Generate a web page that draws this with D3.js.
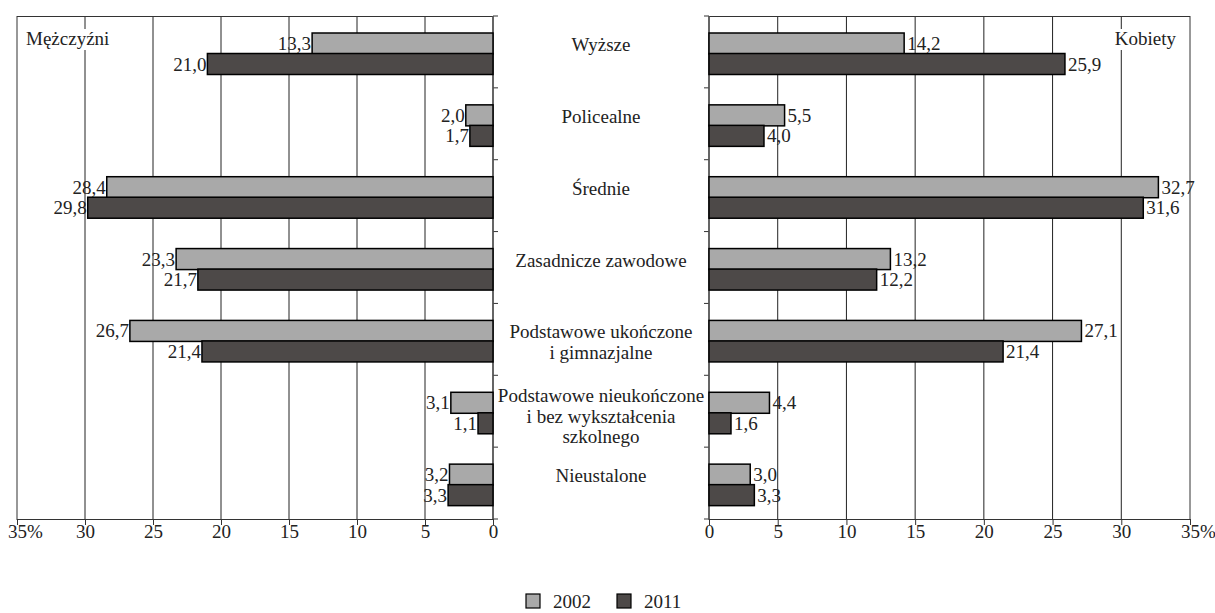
<!DOCTYPE html>
<html>
<head>
<meta charset="utf-8">
<script src="https://cdn.jsdelivr.net/npm/d3@7"></script>
<style>
  body { margin: 0; background: #fff; }
</style>
</head>
<body>
<script>
// education categories (lines of each label)
var categories = [
  ["Wyższe"],
  ["Policealne"],
  ["Średnie"],
  ["Zasadnicze zawodowe"],
  ["Podstawowe ukończone", "i gimnazjalne"],
  ["Podstawowe nieukończone", "i bez wykształcenia", "szkolnego"],
  ["Nieustalone"]
];
var years = ["2002", "2011"];
var men_2002 = [13.3, 2.0, 28.4, 23.3, 26.7, 3.1, 3.2];
var men_2011 = [21.0, 1.7, 29.8, 21.7, 21.4, 1.1, 3.3];
var women_2002 = [14.2, 5.5, 32.7, 13.2, 27.1, 4.4, 3.0];
var women_2011 = [25.9, 4.0, 31.6, 12.2, 21.4, 1.6, 3.3];
var tick_values = [0, 5, 10, 15, 20, 25, 30, 35];

var W = 1215, H = 613;
var top_y = 16, bottom_y = 519;
var colors = {"2002": "#a9a9a9", "2011": "#4d4948"};
var FONT = "'Liberation Serif', 'Times New Roman', serif";

var svg = d3.select("body").append("svg").attr("width", W).attr("height", H);

var y = d3.scaleBand().domain(d3.range(categories.length)).range([top_y, bottom_y]);
var xL = d3.scaleLinear().domain([35, 0]).range([17, 493]);
var xR = d3.scaleLinear().domain([0, 35]).range([709, 1190]);

function fmt(v) { return v.toFixed(1).replace(".", ","); }

function draw_panel(x, s2002, s2011, side) {
  var g = svg.append("g");
  var x0 = x(0);

  // gridlines
  g.selectAll(".grid").data(tick_values.filter(function(d) { return d > 0 && d < 35; }))
    .enter().append("line")
    .attr("x1", function(d) { return x(d); }).attr("x2", function(d) { return x(d); })
    .attr("y1", top_y).attr("y2", bottom_y)
    .attr("stroke", "#222").attr("stroke-width", 1);

  // frame
  var xa = Math.min(x(0), x(35)), xb = Math.max(x(0), x(35));
  g.append("rect").attr("x", xa).attr("y", top_y + 0.5)
    .attr("width", xb - xa).attr("height", bottom_y - top_y)
    .attr("fill", "none").attr("stroke", "#333").attr("stroke-width", 1);

  // bottom axis
  var axis = d3.axisBottom(x).tickValues(tick_values).tickSize(6).tickFormat(function(d) { return d; });
  var ag = g.append("g").attr("transform", "translate(0," + bottom_y + ")").call(axis);
  ag.select(".domain").remove();
  ag.selectAll(".tick line").attr("stroke", "#333");
  ag.selectAll(".tick text").attr("dy", "0.75em").attr("y", 5).attr("fill", "#222")
    .filter(function(d) { return d === 35; })
    .text("35%").attr("text-anchor", "start").attr("dx", -9.5);

  // category ticks on zero axis
  var bounds = d3.range(categories.length + 1).map(function(i) {
    return i < categories.length ? y(i) : bottom_y;
  });
  g.selectAll(".ctick").data(bounds).enter().append("line")
    .attr("x1", x0).attr("x2", x0 + (side === "left" ? 5 : -5))
    .attr("y1", function(d) { return d; }).attr("y2", function(d) { return d; })
    .attr("stroke", "#333");
  g.append("line").attr("x1", x0).attr("x2", x0).attr("y1", top_y).attr("y2", bottom_y)
    .attr("stroke", "#555").attr("stroke-width", 1.5);

  // bars
  var series = [{year: "2002", vals: s2002, off: 17}, {year: "2011", vals: s2011, off: 37.5}];
  series.forEach(function(s) {
    var bh = 21;
    g.selectAll(".bar" + s.year).data(s.vals).enter().append("rect")
      .attr("x", function(d) { return Math.min(x(d), x0); })
      .attr("y", function(d, i) { return y(i) + s.off; })
      .attr("width", function(d) { return Math.abs(x(d) - x0); })
      .attr("height", bh)
      .attr("fill", colors[s.year]).attr("stroke", "#000").attr("stroke-width", 1.5);

    g.selectAll(".val" + s.year).data(s.vals).enter().append("text")
      .attr("class", "val")
      .attr("x", function(d) { return side === "left" ? x(d) - 1 : x(d) + 3; })
      .attr("y", function(d, i) { return y(i) + s.off + bh - 4; })
      .attr("text-anchor", side === "left" ? "end" : "start")
      .text(fmt);
  });
}

draw_panel(xL, men_2002, men_2011, "left");
draw_panel(xR, women_2002, women_2011, "right");

// panel titles
svg.append("rect").attr("x", 24).attr("y", 29).attr("width", 86).attr("height", 21).attr("fill", "#fff");
svg.append("text").attr("x", 26).attr("y", 45).text("Mężczyźni");
svg.append("rect").attr("x", 1116).attr("y", 29).attr("width", 64).attr("height", 21).attr("fill", "#fff");
svg.append("text").attr("x", 1176).attr("y", 45).attr("text-anchor", "end").text("Kobiety");

// category labels
var cx = (493 + 709) / 2;
var lab = svg.selectAll(".catlab").data(categories).enter().append("text")
  .attr("text-anchor", "middle")
  .attr("y", function(d, i) {
    var c = y(i) + y.bandwidth() / 2;
    return d.length === 1 ? c - 1 : (d.length === 2 ? c - 1 : c - 9);
  });
lab.selectAll("tspan").data(function(d) { return d; }).enter().append("tspan")
  .attr("x", cx).attr("dy", function(d, i) { return i === 0 ? 0 : 20.5; })
  .text(function(d) { return d; });

// legend
var leg = svg.append("g");
var lx = [526, 617];
years.forEach(function(yr, i) {
  leg.append("rect").attr("x", lx[i]).attr("y", 594).attr("width", 14).attr("height", 14)
    .attr("fill", colors[yr]).attr("stroke", "#000").attr("stroke-width", 1.2);
  leg.append("text").attr("x", lx[i] + 27).attr("y", 608).text(yr);
});

// serif font on every text
svg.selectAll("text")
  .style("font-family", FONT)
  .style("font-size", "19px")
  .style("fill", "#222");
</script>
</body>
</html>
